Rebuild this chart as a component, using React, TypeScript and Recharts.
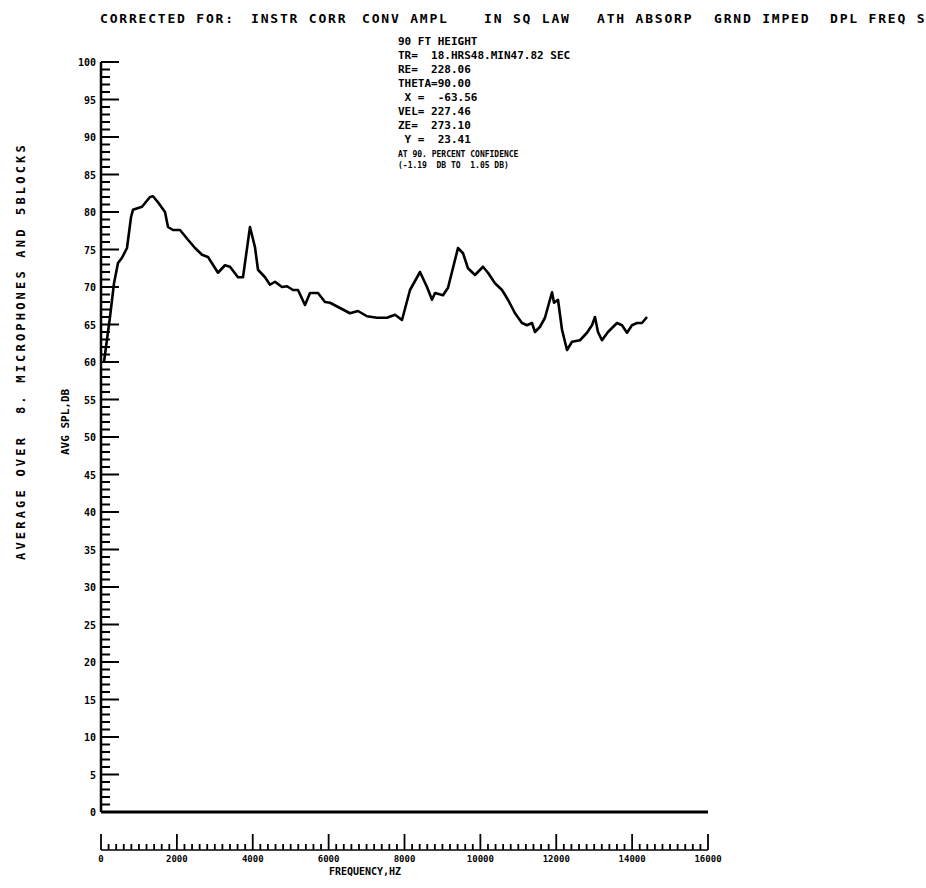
import React from "react";
import { Line, LineChart, XAxis, YAxis } from "recharts";

// Frequency (Hz) and average SPL (dB).
const FREQ_HZ = [
  79, 237, 343, 448, 554, 685, 791, 843, 1081, 1292, 1371, 1502, 1687, 1766,
  1898, 2082, 2293, 2478, 2662, 2820, 3084, 3268, 3400, 3611, 3743, 3927, 4059,
  4138, 4323, 4455, 4586, 4771, 4903, 5061, 5193, 5377, 5509, 5720, 5904, 6036,
  6300, 6563, 6774, 7011, 7275, 7539, 7750, 7934, 8145, 8409, 8593, 8725, 8804,
  9015, 9147, 9410, 9542, 9674, 9858, 10069, 10201, 10385, 10570, 10728, 10913,
  11097, 11229, 11361, 11440, 11572, 11703, 11888, 11941, 12046, 12152, 12284,
  12415, 12626, 12810, 12942, 13021, 13100, 13205, 13364, 13601, 13733, 13865,
  13996, 14128, 14260, 14392,
];
const SPL_DB = [
  60.0, 66.0, 70.5, 73.2, 73.9, 75.2, 79.3, 80.3, 80.7, 82.0, 82.1, 81.3, 80.0,
  78.0, 77.6, 77.6, 76.3, 75.2, 74.3, 74.0, 71.9, 72.9, 72.7, 71.3, 71.3, 78.0,
  75.3, 72.3, 71.3, 70.3, 70.7, 70.0, 70.1, 69.6, 69.6, 67.6, 69.2, 69.2, 68.0,
  67.9, 67.2, 66.5, 66.8, 66.1, 65.9, 65.9, 66.3, 65.6, 69.6, 72.0, 70.0, 68.3,
  69.2, 68.9, 69.9, 75.2, 74.5, 72.5, 71.6, 72.7, 71.9, 70.5, 69.6, 68.3, 66.5,
  65.2, 64.9, 65.2, 64.0, 64.7, 65.9, 69.3, 67.9, 68.3, 64.3, 61.6, 62.7, 62.9,
  63.9, 64.9, 66.0, 64.0, 62.9, 64.0, 65.2, 64.9, 63.9, 64.9, 65.2, 65.2, 66.0,
];

const X_LABEL_STEP = 2000;
const X_MINOR_STEP = 200;
const X_MAX = 16000;
const Y_LABEL_STEP = 5;
const Y_MAX = 100;

const HEADER = [
  { text: "CORRECTED FOR:", x: 100 },
  { text: "INSTR CORR", x: 251 },
  { text: "CONV AMPL", x: 362 },
  { text: "IN SQ LAW", x: 484 },
  { text: "ATH ABSORP", x: 597 },
  { text: "GRND IMPED", x: 714 },
  { text: "DPL FREQ S", x: 830 },
];
const RUN_INFO = [
  "90 FT HEIGHT",
  "TR=  18.HRS48.MIN47.82 SEC",
  "RE=  228.06",
  "THETA=90.00",
  " X =  -63.56",
  "VEL= 227.46",
  "ZE=  273.10",
  " Y =  23.41",
];
const CONFIDENCE = ["AT 90. PERCENT CONFIDENCE", "(-1.19  DB TO  1.05 DB)"];

const rows = FREQ_HZ.map((freq, i) => ({ freq, spl: SPL_DB[i] }));

const xTicks: number[] = [];
for (let f = 0; f <= X_MAX; f += X_MINOR_STEP) xTicks.push(f);
const yTicks: number[] = [];
for (let v = 0; v <= Y_MAX; v++) yTicks.push(v);

const W = 926;
const H = 888;
const PLOT_LEFT = 101;
const PLOT_RIGHT = 708;
const PLOT_TOP = 62;
const PLOT_BOTTOM = 812;
const Y_AXIS_W = 40;
const X_AXIS_H = 60;
const FONT = '"DejaVu Sans Mono", monospace';

function YTick(props: any) {
  const { x, y, payload } = props;
  const v = payload.value as number;
  const major = v % Y_LABEL_STEP === 0;
  return (
    <g>
      <line x1={x} x2={x + (major ? 18 : 9)} y1={y} y2={y} stroke="#000" strokeWidth={2} />
      {major && (
        <text
          x={x - 5}
          y={y}
          dy={4}
          textAnchor="end"
          fontFamily={FONT}
          fontWeight="bold"
          fontSize={10}
          fill="#000"
        >
          {v}
        </text>
      )}
    </g>
  );
}

function XTick(props: any) {
  const { x, y, payload, index } = props;
  const v = payload.value as number;
  const major = v % X_LABEL_STEP === 0;
  const base = y + 38;
  return (
    <g>
      {index === 0 && (
        <line x1={x} x2={x + (PLOT_RIGHT - PLOT_LEFT)} y1={base} y2={base} stroke="#000" strokeWidth={1.5} />
      )}
      <line x1={x} x2={x} y1={base} y2={base - (major ? 16 : 6)} stroke="#000" strokeWidth={1.8} />
      {major && (
        <text
          x={x}
          y={base + 12}
          textAnchor="middle"
          fontFamily={FONT}
          fontWeight="bold"
          fontSize={9}
          fill="#000"
        >
          {v}
        </text>
      )}
    </g>
  );
}

export default function App() {
  return (
    <div style={{ position: "absolute", left: 0, top: 0, width: W, height: H, background: "#fff" }}>
      <LineChart
        width={W}
        height={H}
        data={rows}
        margin={{
          top: PLOT_TOP,
          right: W - PLOT_RIGHT,
          bottom: H - PLOT_BOTTOM - X_AXIS_H,
          left: PLOT_LEFT - Y_AXIS_W,
        }}
      >
        <XAxis
          dataKey="freq"
          type="number"
          domain={[0, X_MAX]}
          ticks={xTicks}
          interval={0}
          height={X_AXIS_H}
          tickSize={0}
          tickMargin={0}
          tickLine={false}
          axisLine={{ stroke: "#000", strokeWidth: 3 }}
          tick={<XTick />}
        />
        <YAxis
          type="number"
          domain={[0, Y_MAX]}
          ticks={yTicks}
          interval={0}
          width={Y_AXIS_W}
          tickSize={0}
          tickMargin={0}
          tickLine={false}
          axisLine={{ stroke: "#000", strokeWidth: 2.5 }}
          tick={<YTick />}
        />
        <Line
          type="linear"
          dataKey="spl"
          stroke="#000"
          strokeWidth={2.6}
          strokeLinejoin="round"
          dot={false}
          activeDot={false}
          isAnimationActive={false}
        />
      </LineChart>
      <svg
        width={W}
        height={H}
        style={{ position: "absolute", left: 0, top: 0, pointerEvents: "none" }}
        fontFamily={FONT}
        fontWeight="bold"
        fill="#000"
      >
        {HEADER.map((h) => (
          <text key={h.text} x={h.x} y={23} fontSize={13} letterSpacing={1.8}>
            {h.text}
          </text>
        ))}
        {RUN_INFO.map((line, i) => (
          <text key={line} x={398} y={45 + i * 14} fontSize={11} xmlSpace="preserve" style={{ whiteSpace: "pre" }}>
            {line}
          </text>
        ))}
        {CONFIDENCE.map((line, i) => (
          <text key={line} x={398} y={157 + i * 11} fontSize={8} xmlSpace="preserve" style={{ whiteSpace: "pre" }}>
            {line}
          </text>
        ))}
        <text
          x={25}
          y={560}
          fontSize={12}
          letterSpacing={3.2}
          transform="rotate(-90 25 560)"
          xmlSpace="preserve"
          style={{ whiteSpace: "pre" }}
        >
          AVERAGE OVER  8. MICROPHONES AND
        </text>
        <text x={25} y={215} fontSize={12} letterSpacing={3.2} transform="rotate(-90 25 215)">
          5BLOCKS
        </text>
        <text x={69} y={455} fontSize={11} transform="rotate(-90 69 455)">
          AVG SPL,DB
        </text>
        <text x={365} y={875} fontSize={10} textAnchor="middle">
          FREQUENCY,HZ
        </text>
      </svg>
    </div>
  );
}
